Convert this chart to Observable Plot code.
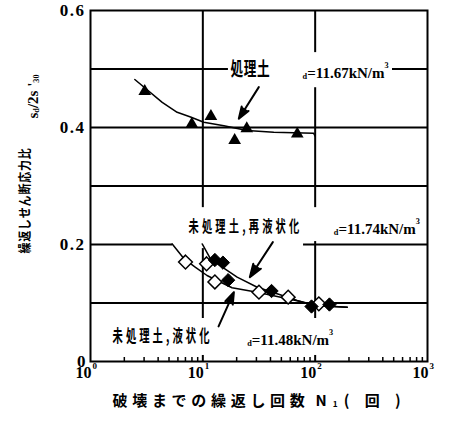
<!DOCTYPE html>
<html><head><meta charset="utf-8">
<script src="https://cdn.jsdelivr.net/npm/d3@7"></script>
<script src="https://cdn.jsdelivr.net/npm/@observablehq/plot@0.6"></script>
<style>html,body{margin:0;padding:0;background:#fff;}</style>
</head><body><div id="chart"></div>
<script>
// ---------- data ----------
// 処理土 (treated soil): filled triangles
const treatedN = [3.04, 7.98, 11.8, 19.2, 24.6, 69.3];
const treatedRatio = [0.462, 0.406, 0.419, 0.378, 0.398, 0.389];
const treatedCurveN = [2.48, 4.35, 5.91, 7.77, 10.2, 15.4, 24.8, 42.8, 97, 100];
const treatedCurveRatio = [0.482, 0.443, 0.426, 0.418, 0.409, 0.403, 0.395, 0.392, 0.390, 0.385];
// 未処理土 液状化 (untreated, liquefaction): open diamonds
const liqN = [7.01, 10.8, 12.8, 31.6, 57.5, 107.8];
const liqRatio = [0.170, 0.167, 0.136, 0.1185, 0.110, 0.0986];
const liqCurveN = [5.34, 6.77, 8.61, 10.9, 13.4, 18.2, 30.5, 45.9, 74.1, 104, 193];
const liqCurveRatio = [0.201, 0.176, 0.161, 0.147, 0.1385, 0.126, 0.1185, 0.111, 0.1026, 0.0957, 0.0928];
// 未処理土 再液状化 (untreated, re-liquefaction): filled diamonds
const reliqN = [12.8, 15.1, 16.8, 40.9, 92.8, 134];
const reliqRatio = [0.1735, 0.169, 0.139, 0.1205, 0.094, 0.0974];
const reliqCurveN = [9.87, 11.7, 14.9, 20.2, 30.5, 45.9, 69.2, 97.3, 193];
const reliqCurveRatio = [0.201, 0.1756, 0.1612, 0.1441, 0.127, 0.1157, 0.1043, 0.0957, 0.0928];

// axes
const yTicks = [0, 0.2, 0.4, 0.6];
const yTickLabels = ["0", "0.2", "0.4", "0.6"];
const gridY = [0.1, 0.2, 0.3, 0.4, 0.5];
const gridX = [10, 100];
const decades = [1, 10, 100, 1000];
const decadeBase = ["10", "10", "10", "10"];
const decadeExp = ["0", "1", "2", "3"];
const minorTicks = [2,3,4,5,6,7,8,9,20,30,40,50,60,70,80,90,200,300,400,500,600,700,800,900];

// annotations
const noteText = ["処理土", "未処理土,再液状化", "未処理土,液状化"];
const noteN = [17.6, 7.45, 1.57];
const noteRatio = [0.499, 0.2308, 0.0419];
const densText = ["_{d}=11.67kN/m^{3}", "_{d}=11.74kN/m^{3}", "_{d}=11.48kN/m^{3}"];
const densN = [77.3, 146.6, 24.8];
const densRatio = [0.4838, 0.2183, 0.0274];
const arrowN1 = [31.5, 42.0, 13.8];
const arrowR1 = [0.469, 0.204, 0.060];
const arrowN2 = [20.9, 26.2, 18.9];
const arrowR2 = [0.415, 0.144, 0.1185];
const boxN1 = [16.9, 5.37, 78.8, 1.36];
const boxN2 = [488, 78.8, 940, 168];
const boxR1 = [0.468, 0.193, 0.205, 0.0103];
const boxR2 = [0.528, 0.263, 0.263, 0.0735];

const yLabelJa = ["繰返しせん断応力比"];
const yLabelSym = ["s_{d}/2s '_{30}"];
const xLabelJa = ["破壊までの繰返し回数"];
const xLabelSym = ["N_{1}( 回 )"];

// ---------- build tables ----------
const zip = (xs, ys) => xs.map((x, i) => ({N: x, r: ys[i]}));
const treated = zip(treatedN, treatedRatio);
const treatedCurve = zip(treatedCurveN, treatedCurveRatio);
const liq = zip(liqN, liqRatio);
const liqCurve = zip(liqCurveN, liqCurveRatio);
const reliq = zip(reliqN, reliqRatio);
const reliqCurve = zip(reliqCurveN, reliqCurveRatio);
const arrows = arrowN1.map((d, i) => ({x1: d, y1: arrowR1[i], x2: arrowN2[i], y2: arrowR2[i]}));
const boxes = boxN1.map((d, i) => ({x1: d, x2: boxN2[i], y1: boxR1[i], y2: boxR2[i]}));

const W = 450, H = 421, MT = 10, MB = 60, ML = 90, MR = 23;
const frameH = H - MT - MB;
const serif = "'Liberation Serif', 'Times New Roman', serif";
const jp = "'Noto Sans CJK JP', sans-serif";

const chart = Plot.plot({
  width: W, height: H,
  marginTop: MT, marginBottom: MB, marginLeft: ML, marginRight: MR,
  style: {fontFamily: serif, fontSize: "15px", fontWeight: "bold", background: "white", overflow: "visible", color: "black"},
  x: {type: "log", domain: [1, 1000], axis: null},
  y: {domain: [0, 0.6], axis: null},
  marks: [
    Plot.ruleY(gridY, {y: d => d, strokeWidth: 2}),
    Plot.ruleX(gridX, {x: d => d, strokeWidth: 2}),
    Plot.rect(boxes, {x1: "x1", x2: "x2", y1: "y1", y2: "y2", fill: "white"}),
    Plot.frame({strokeWidth: 2}),
    Plot.tickX(minorTicks, {x: d => d, insetTop: frameH - 4, strokeWidth: 1.5}),
    // curves
    Plot.line(treatedCurve, {x: "N", y: "r", strokeWidth: 1.5}),
    Plot.line(liqCurve, {x: "N", y: "r", strokeWidth: 1.5}),
    Plot.line(reliqCurve, {x: "N", y: "r", strokeWidth: 1.5}),
    // points
    Plot.dot(treated, {x: "N", y: "r", symbol: "triangle", r: 4.7, fill: "black", stroke: "none"}),
    Plot.dot(liq, {x: "N", y: "r", symbol: "diamond2", r: 6.2, fill: "white", stroke: "black", strokeWidth: 1.5}),
    Plot.dot(reliq, {x: "N", y: "r", symbol: "diamond2", r: 6.0, fill: "black", stroke: "black", strokeWidth: 1}),
    // arrows
    Plot.arrow(arrows, {x1: "x1", y1: "y1", x2: "x2", y2: "y2", stroke: "black", fill: "black", strokeWidth: 2, headLength: 11, headAngle: 38}),
    // annotations
    Plot.text(noteText, {x: noteN, y: noteRatio, textAnchor: "start", fontFamily: jp, fontWeight: "bold", fontSize: 17}),
    Plot.text(densText, {x: densN, y: densRatio, textAnchor: "start", lineAnchor: "bottom", fontSize: 15}),
    // y tick labels
    Plot.text(yTicks, {y: d => d, text: (d, i) => yTickLabels[i], frameAnchor: "left", dx: -5, textAnchor: "end", fontSize: 17}),
    // x tick labels
    Plot.text(decades, {x: d => d, text: (d, i) => decadeBase[i], frameAnchor: "bottom", textAnchor: "end", lineAnchor: "top", dx: 1, dy: 5, fontSize: 16}),
    Plot.text(decades, {x: d => d, text: (d, i) => decadeExp[i], frameAnchor: "bottom", textAnchor: "start", lineAnchor: "top", dx: 2, dy: 1, fontSize: 9}),
    // axis titles
    Plot.text(yLabelJa, {frameAnchor: "left", rotate: -90, dx: -66, dy: 67.5, textAnchor: "start", fontFamily: jp, fontWeight: "bold", fontSize: 13}),
    Plot.text(yLabelSym, {frameAnchor: "left", rotate: -90, dx: -53, dy: -67.5, textAnchor: "start", lineAnchor: "bottom", fontSize: 15}),
    Plot.text(xLabelJa, {frameAnchor: "bottom-left", dx: 22, dy: 44.5, textAnchor: "start", fontFamily: jp, fontWeight: "bold", fontSize: 15}),
    Plot.text(xLabelSym, {frameAnchor: "bottom-left", dx: 225, dy: 44.5, textAnchor: "start", fontFamily: jp, fontWeight: "bold", fontSize: 15})
  ]
});

// ---------- text post-processing (sub/superscripts, condensed CJK) ----------
const textStyle = new Map([
  [noteText[0], {fs: 19, ls: 1, w: 40}],
  [noteText[1], {fs: 16, ls: 5, w: 114}],
  [noteText[2], {fs: 17, ls: 5, w: 100}],
  [yLabelJa[0], {ls: 1, w: 106}],
  [xLabelJa[0], {ls: 4.7}],
  [xLabelSym[0], {ls: 6}],
  [yTickLabels[1], {ls: 1.5}], [yTickLabels[2], {ls: 1.5}], [yTickLabels[3], {ls: 1.5}]
]);
d3.select(chart).selectAll("text").each(function() {
  const raw = this.textContent;
  const t = d3.select(this);
  const s = textStyle.get(raw);
  if (/[_^]\{/.test(raw)) {
    t.text(null);
    const re = /([_^])\{([^}]*)\}|([^_^]+)/g;
    let m;
    while ((m = re.exec(raw))) {
      if (m[3]) t.append("tspan").text(m[3]);
      else if (m[1] === "_") t.append("tspan").attr("font-size", "0.55em").attr("baseline-shift", "-1px").text(m[2]);
      else t.append("tspan").attr("font-size", "0.55em").attr("baseline-shift", "10px").text(m[2]);
    }
  }
  if (s) {
    if (s.fs) t.attr("font-size", s.fs);
    if (s.ls != null) t.style("letter-spacing", s.ls + "px");
    if (s.w) t.attr("textLength", s.w).attr("lengthAdjust", "spacingAndGlyphs");
  }
});

document.getElementById("chart").append(chart);
</script></body></html>
